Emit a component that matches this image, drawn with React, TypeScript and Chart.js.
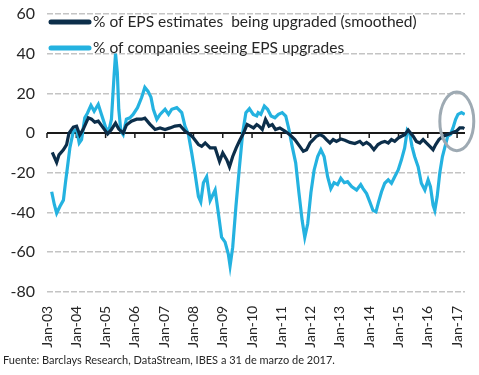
import React, { useEffect, useRef } from "react";
import { Chart, registerables } from "chart.js";

Chart.register(...registerables);

// ---------- DATA ----------
const SERIES_A_LABEL = "% of EPS estimates  being upgraded (smoothed)";
const SERIES_B_LABEL = "% of companies seeing EPS upgrades";
const FOOTER = "Fuente: Barclays Research, DataStream, IBES a 31 de marzo de 2017.";

const Y_TICKS = [60, 40, 20, 0, -20, -40, -60, -80];
const X_TICK_YEARS = [2003, 2004, 2005, 2006, 2007, 2008, 2009, 2010, 2011, 2012, 2013, 2014, 2015, 2016, 2017];

// dates as decimal years
const seriesADates = [
  2003.18, 2003.33, 2003.41, 2003.56, 2003.67, 2003.75, 2003.9, 2004.01, 2004.12, 2004.24,
  2004.41, 2004.52, 2004.63, 2004.75, 2004.92, 2005.07, 2005.2, 2005.34, 2005.45, 2005.6,
  2005.71, 2005.88, 2006.06, 2006.23, 2006.34, 2006.51, 2006.69, 2006.86, 2007.03, 2007.2,
  2007.37, 2007.54, 2007.71, 2007.89, 2008.0, 2008.17, 2008.28, 2008.4, 2008.57, 2008.74,
  2008.89, 2009.0, 2009.14, 2009.23, 2009.34, 2009.46, 2009.57, 2009.71, 2009.83, 2009.94,
  2010.05, 2010.16, 2010.24, 2010.35, 2010.46, 2010.58, 2010.69, 2010.8, 2010.95, 2011.12,
  2011.29, 2011.46, 2011.63, 2011.75, 2011.86, 2011.98, 2012.09, 2012.2, 2012.32, 2012.43,
  2012.54, 2012.66, 2012.77, 2012.88, 2013.03, 2013.17, 2013.34, 2013.51, 2013.68, 2013.79,
  2013.91, 2014.02, 2014.16, 2014.3, 2014.42, 2014.53, 2014.65, 2014.76, 2014.87, 2014.99,
  2015.1, 2015.21, 2015.33, 2015.41, 2015.5, 2015.61, 2015.73, 2015.84, 2015.95, 2016.07,
  2016.18, 2016.27, 2016.38, 2016.52, 2016.66, 2016.81, 2016.98, 2017.09, 2017.2, 2017.25,
];
const seriesAValues = [
  -9.7, -14.8, -11, -8.4, -5.8, 0, 3, 3.5, -1, 2,
  7.7, 7, 5.5, 6, 2.6, -0.4, 1.8, 5, 2, 0,
  4, 6, 7, 7, 7.5, 4.5, 1.8, 2.6, 1.8, 2.6,
  3.5, 3.8, 1, -0.8, -2.5, -5.8, -6.7, -5, -7.5, -7.5,
  -14.3, -10, -13.5, -17, -11.8, -7.5, -4, 0, 4.3, 3.5,
  2.6, 4.3, 3.5, 1.8, 6.9, 3.5, 4.3, 1.8, 2.6, 1,
  -0.8, -3.3, -6.7, -9.2, -8.4, -5, -3.3, -1.6, -0.8, -1.6,
  -3.3, -5, -3.3, -4.2, -3, -3.6, -4.7, -5.3, -4.2, -5.8,
  -4.7, -5.8, -8.4, -5.8, -4.7, -4.2, -5, -3.3, -4.2, -2.5,
  -1.6, -0.8, 1.5, 0, -1.6, -4.2, -5, -3.3, -5, -6.7,
  -8.4, -5.8, -3.3, -1.6, -0.8, 0, 1, 2.6, 2.6, 2.2,
];

const seriesBDates = [
  2003.16, 2003.25, 2003.33, 2003.44, 2003.56, 2003.63, 2003.7, 2003.78, 2003.9, 2004.01,
  2004.1, 2004.18, 2004.29, 2004.38, 2004.5, 2004.61, 2004.75, 2004.86, 2005.01, 2005.11,
  2005.2, 2005.29, 2005.34, 2005.4, 2005.45, 2005.52, 2005.6, 2005.71, 2005.83, 2005.94,
  2006.09, 2006.23, 2006.34, 2006.45, 2006.55, 2006.63, 2006.75, 2006.86, 2007.03, 2007.15,
  2007.26, 2007.43, 2007.6, 2007.71, 2007.83, 2007.94, 2008.05, 2008.17, 2008.25, 2008.34,
  2008.45, 2008.57, 2008.74, 2008.85, 2008.96, 2009.08, 2009.19, 2009.25, 2009.34, 2009.45,
  2009.57, 2009.68, 2009.79, 2009.91, 2010.04, 2010.16, 2010.21, 2010.3, 2010.42, 2010.53,
  2010.65, 2010.78, 2010.9, 2011.03, 2011.15, 2011.26, 2011.37, 2011.49, 2011.6, 2011.71,
  2011.8, 2011.9, 2012.01, 2012.12, 2012.24, 2012.35, 2012.46, 2012.58, 2012.69, 2012.8,
  2012.92, 2013.03, 2013.15, 2013.26, 2013.4, 2013.57, 2013.71, 2013.79, 2013.91, 2014.02,
  2014.13, 2014.23, 2014.32, 2014.42, 2014.53, 2014.65, 2014.76, 2014.87, 2014.99, 2015.1,
  2015.21, 2015.3, 2015.38, 2015.46, 2015.55, 2015.67, 2015.78, 2015.9, 2016.01, 2016.09,
  2016.18, 2016.24, 2016.32, 2016.41, 2016.5, 2016.59, 2016.68, 2016.77, 2016.86, 2016.95,
  2017.03, 2017.15, 2017.26,
];
const seriesBValues = [
  -29.6, -36, -40.4, -37, -33.8, -25, -17, -7.5, 1, 1.8,
  -5, -3.3, 7.7, 10, 14, 11, 14.5, 9.4, 2.6, 1,
  7, 29, 40, 30.6, 12, 1, -0.8, 7, 7.7, 9.4,
  12.8, 17.9, 23, 21, 18, 12, 6.9, 9.4, 12, 9.4,
  12, 12.8, 10.3, 3.5, -0.8, -10, -20, -32, -34.7, -25,
  -22, -34, -28.7, -40.4, -52.5, -55, -61, -67, -57.5, -37,
  -17, 0, 10.3, 12.3, 9.4, 8.6, 10.3, 9.4, 13.6, 12,
  8.6, 7.7, 9.4, 10.3, 8.6, 1.8, -6.7, -15, -30, -44,
  -52.5, -45.7, -30, -18.6, -11.8, -8.4, -11.8, -22, -28, -25,
  -26, -22.8, -25, -24.5, -27, -28.7, -26, -28, -30.5, -34.7,
  -39, -39.7, -34.7, -29.6, -25.3, -23.6, -25.3, -22, -18.6, -13.5,
  -7.5, 1.5, 0, -6.7, -11.8, -17, -25.3, -28.7, -23.6, -27,
  -36.3, -39, -32, -20, -11.8, -6.7, -1.6, -0.8, 2.6, 6.9,
  9.4, 10.3, 9.4,
];

// highlighted region (data units)
const HIGHLIGHT_X = 2016.99;
const HIGHLIGHT_Y = 5.9;
const HIGHLIGHT_RX = 0.58; // years
const HIGHLIGHT_RY = 14.8; // %

const X_MIN = 2003;
const X_MAX = 2017.27;

// ---------- STYLE ----------
const FONT = "Lato, 'Open Sans', sans-serif";
const DARK = "#0c2e4a";
const LIGHT = "#24b2e0";
const TEXT = "#262626";

const zeroLinePlugin = {
  id: "zeroLine",
  beforeDatasetsDraw(chart: any) {
    const { ctx, chartArea, scales } = chart;
    const y0 = scales.y.getPixelForValue(0);
    ctx.save();
    ctx.strokeStyle = "#1a1a1a";
    ctx.lineWidth = 2;
    ctx.beginPath();
    ctx.moveTo(chartArea.left, y0);
    ctx.lineTo(chartArea.right, y0);
    ctx.stroke();
    ctx.lineWidth = 1.5;
    X_TICK_YEARS.forEach((yr) => {
      const x = scales.x.getPixelForValue(yr);
      ctx.beginPath();
      ctx.moveTo(x, y0);
      ctx.lineTo(x, y0 + 5);
      ctx.stroke();
    });
    ctx.restore();
  },
};

const highlightPlugin = {
  id: "highlight",
  afterDatasetsDraw(chart: any) {
    const { ctx, scales } = chart;
    const cx = scales.x.getPixelForValue(HIGHLIGHT_X);
    const cy = scales.y.getPixelForValue(HIGHLIGHT_Y);
    const rx = Math.abs(scales.x.getPixelForValue(HIGHLIGHT_X + HIGHLIGHT_RX) - cx);
    const ry = Math.abs(scales.y.getPixelForValue(HIGHLIGHT_Y + HIGHLIGHT_RY) - cy);
    ctx.save();
    ctx.strokeStyle = "#9eaab3";
    ctx.lineWidth = 3;
    ctx.beginPath();
    ctx.ellipse(cx, cy, rx, ry, 0, 0, Math.PI * 2);
    ctx.stroke();
    ctx.restore();
  },
};

const insideLegendPlugin = {
  id: "insideLegend",
  afterDatasetsDraw(chart: any) {
    const { ctx, chartArea } = chart;
    chart.data.datasets.forEach((ds: any, i: number) => {
      const y = chartArea.top + 8 + i * 26;
      const x0 = chartArea.left + 4;
      ctx.save();
      ctx.strokeStyle = ds.borderColor;
      ctx.lineWidth = 5;
      ctx.lineCap = "round";
      ctx.beginPath();
      ctx.moveTo(x0, y);
      ctx.lineTo(x0 + 38, y);
      ctx.stroke();
      ctx.fillStyle = TEXT;
      ctx.font = `15.5px ${FONT}`;
      ctx.textBaseline = "middle";
      ctx.fillText(ds.label, x0 + 42, y);
      ctx.restore();
    });
  },
};

export default function App() {
  const canvasRef = useRef<HTMLCanvasElement | null>(null);

  useEffect(() => {
    if (!canvasRef.current) return;
    const chart = new Chart(canvasRef.current, {
      type: "line",
      data: {
        datasets: [
          {
            label: SERIES_A_LABEL,
            data: seriesADates.map((x, i) => ({ x, y: seriesAValues[i] })),
            borderColor: DARK,
            borderWidth: 3.2,
            pointRadius: 0,
            tension: 0,
            order: 1,
          },
          {
            label: SERIES_B_LABEL,
            data: seriesBDates.map((x, i) => ({ x, y: seriesBValues[i] })),
            borderColor: LIGHT,
            borderWidth: 3.2,
            pointRadius: 0,
            tension: 0,
            order: 2,
          },
        ],
      },
      options: {
        animation: false,
        responsive: false,
        maintainAspectRatio: false,
        layout: { autoPadding: false, padding: { left: 3, right: 14, top: 14, bottom: 0 } },
        plugins: {
          legend: { display: false },
          tooltip: { enabled: false },
          title: {
            display: true,
            position: "bottom",
            align: "start",
            text: FOOTER,
            color: TEXT,
            font: { family: FONT, size: 11, weight: "normal", lineHeight: 1.2 },
            padding: { top: 4, bottom: 8 },
          },
        },
        scales: {
          x: {
            type: "linear",
            min: X_MIN,
            max: X_MAX,
            afterBuildTicks: (axis: any) => {
              axis.ticks = X_TICK_YEARS.map((v) => ({ value: v }));
            },
            afterFit: (scale: any) => {
              scale.height = 58;
              scale.paddingLeft = 0;
              scale.paddingRight = 0;
            },
            grid: { display: false },
            border: { display: false },
            ticks: {
              autoSkip: false,
              minRotation: 90,
              maxRotation: 90,
              padding: 6,
              color: TEXT,
              font: { family: FONT, size: 14 },
              callback: (v: any) => "Jan-" + String(Number(v) % 100).padStart(2, "0"),
            },
          },
          y: {
            min: -80,
            max: 60,
            afterBuildTicks: (axis: any) => {
              axis.ticks = Y_TICKS.map((v) => ({ value: v }));
            },
            afterFit: (scale: any) => {
              scale.width = 44;
              scale.paddingTop = 0;
              scale.paddingBottom = 0;
            },
            grid: { color: "#c4c4c4", lineWidth: 1.5, drawTicks: false },
            border: { display: false, dash: [6, 2] },
            ticks: {
              padding: 12,
              color: TEXT,
              font: { family: FONT, size: 16 },
            },
          },
        },
      },
      plugins: [zeroLinePlugin, highlightPlugin, insideLegendPlugin],
    } as any);
    return () => chart.destroy();
  }, []);

  return (
    <div style={{ position: "fixed", left: 0, top: 0, width: 479, height: 375, background: "#fff" }}>
      <canvas ref={canvasRef} width={479} height={375} style={{ display: "block" }} />
    </div>
  );
}
